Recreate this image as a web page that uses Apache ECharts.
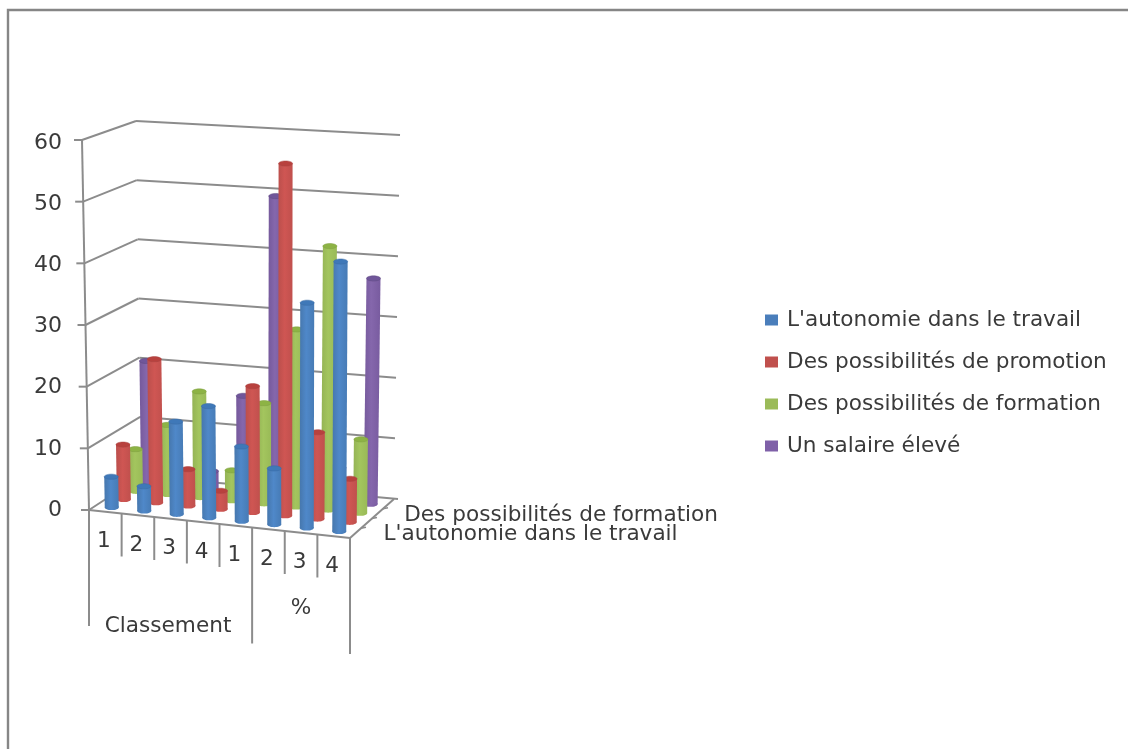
<!DOCTYPE html>
<html><head><meta charset="utf-8">
<style>html,body{margin:0;padding:0;background:#fff}#c{width:1128px;height:749px}</style>
<script src="https://cdn.jsdelivr.net/npm/echarts@6/dist/echarts.min.js"></script>
</head><body><div id="c"></div>
<script>
// ---- data ----
const categories = ['1','2','3','4','1','2','3','4'];
const groupNames = ['Classement','%'];
const groupSpans = [5,3];
const yTicks = [0,10,20,30,40,50,60];
const depthLabels = [[0,"L'autonomie dans le travail"],[2,"Des possibilités de formation"]];
const autonomie = [5,4,15,18,12,9,36,43];
const promotion = [9,23.5,6,3,20.5,57,14,7];
const formation = [7,11.5,17.5,5,16.5,29,43,12];
const salaire   = [20.5,2,3,16,49.5,8,5.5,37];
// ---- style / layout ----
const FONT = '"DejaVu Sans", Verdana, sans-serif';
const TXT = '#3a3a3a', LINE = '#8c8c8c', FS = 21.6;
const BOX = {fl:[[89,510],[82,140]], fr:[[350,538],[352,159]], bl:[[141,476],[136,121]], br:[[394,499],[400,135]]};
const GRID = {left:89,top:143,width:261,height:367};
const DEPTH = s => 0.125 + 0.235*s;
const lerp=(a,b,t)=>[a[0]+(b[0]-a[0])*t,a[1]+(b[1]-a[1])*t];
function proj(u,d,w){
  const lv=k=>lerp(BOX[k][0],BOX[k][1],w);
  return lerp(lerp(lv('fl'),lv('fr'),u),lerp(lv('bl'),lv('br'),u),d);
}
const norm=(c,p)=>[(c[0]-p.coordSys.x)/p.coordSys.width,(p.coordSys.y+p.coordSys.height-c[1])/p.coordSys.height];
const line=(a,b,w)=>({type:'line',shape:{x1:a[0],y1:a[1],x2:b[0],y2:b[1]},style:{stroke:LINE,lineWidth:w||2},silent:true});
const text=(s,x,y,size,align)=>({type:'text',x:x,y:y,style:{text:s,x:0,y:0,fill:TXT,font:(size||FS)+'px '+FONT,align:align||'center',verticalAlign:'middle'},silent:true});

const palette = {
  "L'autonomie dans le travail":{solid:'#4a7ebb',edgeL:'#4677ad',mid:'#4f88c9',edgeR:'#477bb5',top:'#3f78b8',line:'#3a6ba3'},
  "Des possibilités de promotion":{solid:'#c0504d',edgeL:'#bb4f4c',mid:'#cf5653',edgeR:'#c0504d',top:'#b8413e',line:'#a84442'},
  "Des possibilités de formation":{solid:'#9bbb59',edgeL:'#94b355',mid:'#a3c55e',edgeR:'#99ba57',top:'#8db345',line:'#7f9e42'},
  "Un salaire élevé":{solid:'#7f60a8',edgeL:'#75599b',mid:'#8567ac',edgeR:'#785b9f',top:'#70569a',line:'#5f4a80'}
};
function barRender(s,name){
  const pal=palette[name], rx=7, ry=2.6;
  return function(params,api){
    const c=api.coord([api.value(0),api.value(1)]);
    const c0=api.coord([api.value(0),0]);
    const [u,w]=norm(c,params), u0=norm(c0,params);
    const t=proj(u,DEPTH(s),w), b=proj(u,DEPTH(s),u0[1]);
    const grad=new echarts.graphic.LinearGradient(0,0,1,0,[{offset:0,color:pal.edgeL},{offset:.45,color:pal.mid},{offset:1,color:pal.edgeR}]);
    return {type:'group',children:[
      {type:'ellipse',shape:{cx:b[0],cy:b[1],rx:rx,ry:ry},style:{fill:grad}},
      {type:'polygon',shape:{points:[[t[0]-rx,t[1]],[t[0]+rx,t[1]],[b[0]+rx,b[1]],[b[0]-rx,b[1]]]},style:{fill:grad}},
      {type:'ellipse',shape:{cx:t[0],cy:t[1],rx:rx,ry:ry},style:{fill:pal.top,stroke:pal.line,lineWidth:.5}}
    ]};
  };
}
const seriesDefs=[["L'autonomie dans le travail",autonomie,0],["Des possibilités de promotion",promotion,1],["Des possibilités de formation",formation,2],["Un salaire élevé",salaire,3]];
const barSeries=seriesDefs.map(([name,vals,s])=>({
  type:'custom',name,z:8-s,coordinateSystem:'cartesian2d',clip:false,
  itemStyle:{color:palette[name].solid},
  encode:{x:0,y:1},
  data:vals.map((v,i)=>[i,v]),
  renderItem:barRender(s,name)
}));
const wallSeries={type:'custom',name:'walls',z:2,clip:false,silent:true,encode:{x:0,y:1},
  data:yTicks.map(v=>[0,v]),
  renderItem(params,api){
    const w=norm(api.coord([0,api.value(1)]),params)[1];
    const a=proj(0,0,w),b=proj(0,1,w),c=proj(1,1,w);
    return {type:'group',children:[line([a[0]-8,a[1]],a),line(a,b),line(b,[c[0]+(w===0?4:0),c[1]])]};
  }};
const floorSeries={type:'custom',name:'floor',z:2,clip:false,silent:true,encode:{x:0,y:1},
  data:[[0,0]],
  renderItem(){
    const kids=[line(proj(0,0,0),proj(0,0,1)),line(proj(0,0,0),proj(1,0,0)),line(proj(1,0,0),proj(1,1,0))];
    [.25,.5,.75].forEach(d=>{const p=proj(1,d,0);kids.push(line(p,[p[0]+5,p[1]-1],1.5));});
    return {type:'group',children:kids};
  }};
const groupEdges=groupSpans.reduce((a,n)=>a.concat(a[a.length-1]+n),[0]);
const sepSeries={type:'custom',name:'separators',z:2,clip:false,silent:true,encode:{x:0,y:1},
  data:Array.from({length:categories.length+1},(_,i)=>[0,0,i]),
  renderItem(params,api){
    const i=api.value(2),band=api.size([1,0])[0];
    const u=(api.coord([0,0])[0]-band/2+i*band-params.coordSys.x)/params.coordSys.width;
    const p=proj(u,0,0);
    return line(p,[p[0],p[1]+(groupEdges.includes(i)?116:43)]);
  }};
const catLabelSeries={type:'custom',name:'catLabels',z:9,clip:false,silent:true,encode:{x:0,y:1},
  data:categories.map((c,i)=>[i,0]),
  renderItem(params,api){
    const i=api.value(0),u=norm(api.coord([i,0]),params)[0],p=proj(u,0,0);
    return text(categories[i],p[0]-1.5,p[1]+30);
  }};
const GROUP_DROP=[108,76];
const groupLabelSeries={type:'custom',name:'groupLabels',z:9,clip:false,silent:true,encode:{x:0,y:1},
  data:groupNames.map((n,i)=>[i,0]),
  renderItem(params,api){
    const g=api.value(0),u=(groupEdges[g]+groupEdges[g+1])/2/categories.length,p=proj(u,0,0);
    return text(groupNames[g],p[0]-(g===0?2.5:0),p[1]+GROUP_DROP[g]);
  }};
const depthLabelSeries={type:'custom',name:'depthLabels',z:9,clip:false,silent:true,encode:{x:0,y:1},
  data:depthLabels.map((d,i)=>[0,0,i]),
  renderItem(params,api){
    const [s,label]=depthLabels[api.value(2)],p=proj(1,DEPTH(s),0);
    return text(label,p[0]+28,p[1]+1,FS,'left');
  }};
const chart=echarts.init(document.getElementById('c'),null,{renderer:'canvas'});
chart.setOption({
  animation:false,backgroundColor:'#fff',
  graphic:[{type:'rect',z:0,shape:{x:8,y:10,width:1300,height:900},style:{fill:'none',stroke:'#868686',lineWidth:2.4},silent:true}],
  grid:GRID,
  xAxis:{type:'category',data:categories.map((c,i)=>i+':'+c),show:false},
  yAxis:{type:'value',min:0,max:60,interval:10,axisLine:{show:false},axisTick:{show:false},splitLine:{show:false},
    axisLabel:{margin:27,fontFamily:FONT,fontSize:22,color:TXT}},
  legend:{orient:'vertical',left:765,top:309,padding:0,itemWidth:13,itemHeight:11,itemGap:20,icon:'rect',
    data:seriesDefs.map(d=>d[0]),textStyle:{fontFamily:FONT,fontSize:FS,color:TXT,padding:[0,0,0,4],lineHeight:22},selectedMode:false},
  series:[wallSeries,floorSeries,sepSeries,...barSeries,catLabelSeries,groupLabelSeries,depthLabelSeries]
});
</script></body></html>
